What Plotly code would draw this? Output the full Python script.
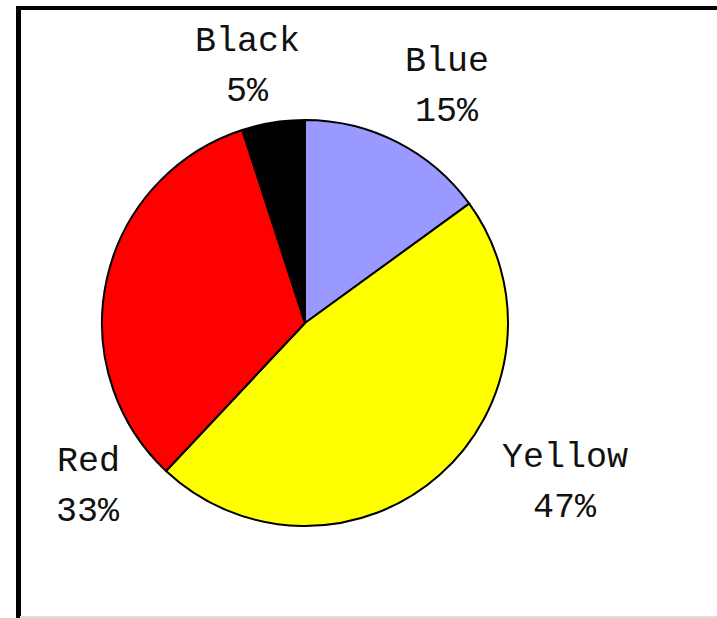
import plotly.graph_objects as go

# Slice data (clockwise from 12 o'clock)
labels = ["Blue", "Yellow", "Red", "Black"]
values = [15, 47, 33, 5]
colors = ["#9999FF", "#FFFF00", "#FF0000", "#000000"]

W, H = 717, 618
cx, cy, r = 305, 323, 203

fig = go.Figure(
    go.Pie(
        labels=labels,
        values=values,
        sort=False,
        direction="clockwise",
        rotation=0,
        marker=dict(colors=colors, line=dict(color="black", width=2)),
        textinfo="none",
        hoverinfo="label+percent",
        showlegend=False,
        domain=dict(
            x=[(cx - r) / W, (cx + r) / W],
            y=[1 - (cy + r) / H, 1 - (cy - r) / H],
        ),
    )
)

# Pixel centre of each label's first line; the percentage sits one line below
label_pos = {
    "Black": (247, 42),
    "Blue": (447, 62),
    "Red": (88, 462),
    "Yellow": (565, 458),
}
line_gap = 50
total = sum(values)
font = dict(family="Liberation Mono", size=35, color="#111111")
annotations = []
for lab, val in zip(labels, values):
    px, py = label_pos[lab]
    pct = round(100 * val / total)
    for i, txt in enumerate([lab, f"{pct}%"]):
        annotations.append(
            dict(
                x=px / W,
                y=1 - (py + i * line_gap) / H,
                xref="paper",
                yref="paper",
                xanchor="center",
                yanchor="middle",
                text=txt,
                showarrow=False,
                font=font,
            )
        )

# Frame around the chart area
shapes = [
    dict(type="line", xref="paper", yref="paper",
         x0=16 / W, x1=1, y0=1 - 8 / H, y1=1 - 8 / H,
         line=dict(color="black", width=4)),
    dict(type="line", xref="paper", yref="paper",
         x0=18.5 / W, x1=18.5 / W, y0=1 - 8 / H, y1=0,
         line=dict(color="black", width=5)),
    dict(type="line", xref="paper", yref="paper",
         x0=20 / W, x1=1, y0=1 / H, y1=1 / H,
         line=dict(color="#DDDDDD", width=2)),
]

fig.update_layout(
    width=W,
    height=H,
    margin=dict(l=0, r=0, t=0, b=0),
    paper_bgcolor="white",
    plot_bgcolor="white",
    annotations=annotations,
    shapes=shapes,
)

fig.write_html("out.html")
